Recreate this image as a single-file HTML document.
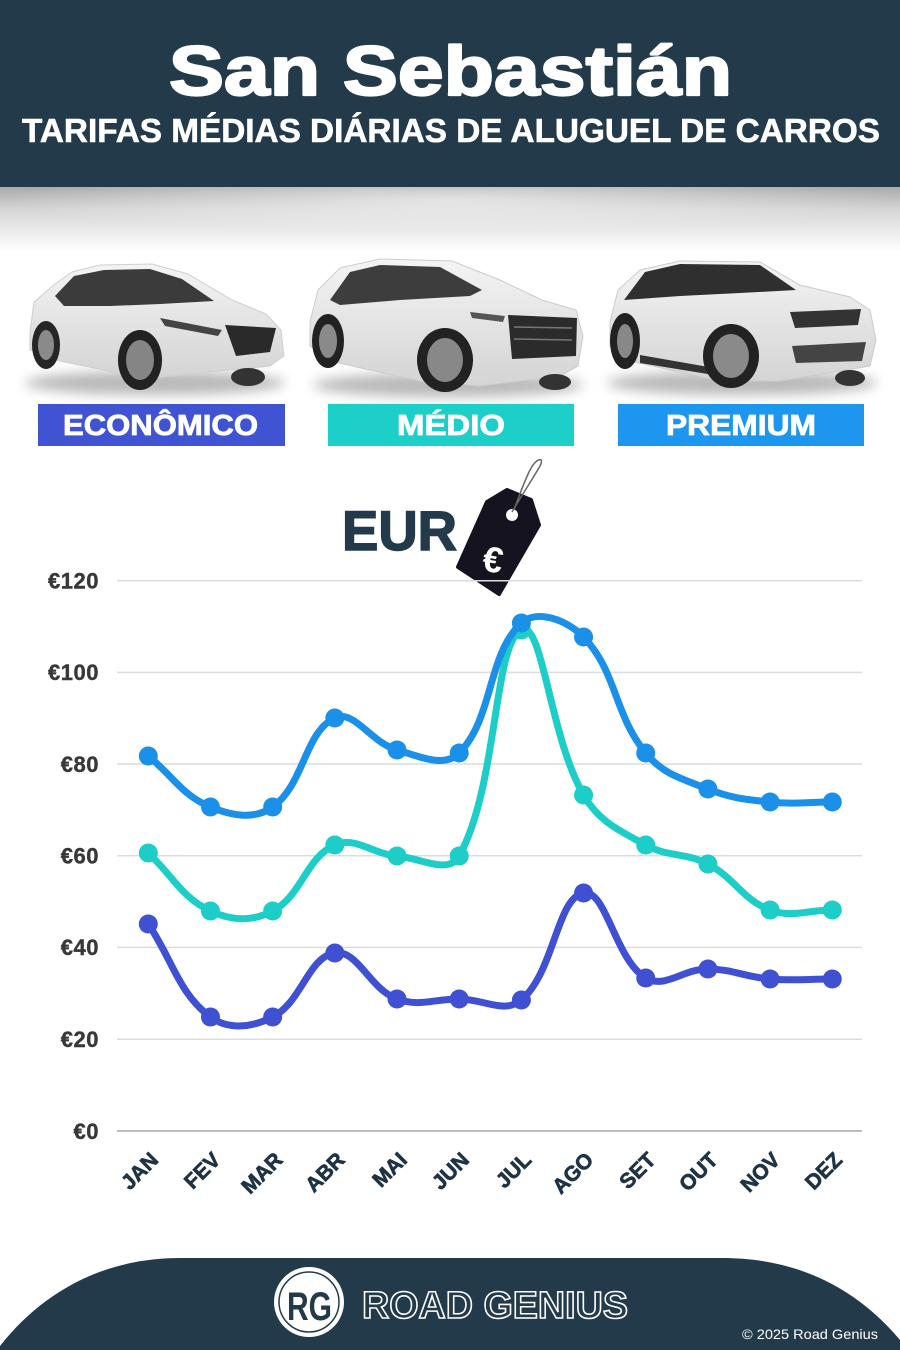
<!DOCTYPE html>
<html><head><meta charset="utf-8">
<style>
html,body{margin:0;padding:0;background:#fff;}
body{width:900px;height:1350px;overflow:hidden;}
svg{display:block;}
text{font-family:"Liberation Sans",sans-serif;}
</style></head>
<body>
<svg id="s" width="900" height="1350" viewBox="0 0 900 1350" xmlns="http://www.w3.org/2000/svg">
<defs>
<linearGradient id="band" x1="0" y1="0" x2="0" y2="1">
<stop offset="0" stop-color="#a9a9a9"/>
<stop offset="0.35" stop-color="#d6d6d6"/>
<stop offset="1" stop-color="#ffffff"/>
</linearGradient>
<radialGradient id="bandc" cx="0.5" cy="0.2" r="0.5">
<stop offset="0" stop-color="#fff" stop-opacity="0.55"/>
<stop offset="1" stop-color="#fff" stop-opacity="0"/>
</radialGradient>
<linearGradient id="body" x1="0" y1="0" x2="0" y2="1">
<stop offset="0" stop-color="#f4f4f4"/>
<stop offset="1" stop-color="#d4d4d4"/>
</linearGradient>
<filter id="blur" x="-20%" y="-100%" width="140%" height="300%"><feGaussianBlur stdDeviation="6"/></filter>
</defs>

<!-- header -->
<rect x="0" y="0" width="900" height="187" fill="#233a4b"/>
<rect x="0" y="187" width="900" height="65" fill="url(#band)"/>
<rect x="0" y="187" width="900" height="65" fill="url(#bandc)"/>
<text x="169" y="95" font-size="70" font-weight="bold" fill="#fff" stroke="#fff" stroke-width="2.2" stroke-linejoin="round" textLength="563" lengthAdjust="spacingAndGlyphs">San Sebastián</text>
<text x="22" y="142" font-size="33" font-weight="bold" fill="#fff" stroke="#fff" stroke-width="0.6" textLength="858" lengthAdjust="spacingAndGlyphs">TARIFAS MÉDIAS DIÁRIAS DE ALUGUEL DE CARROS</text>

<!-- car 1 -->
<g>
<ellipse cx="155" cy="383" rx="130" ry="12" fill="#8a8a8a" opacity="0.6" filter="url(#blur)"/>
<path d="M30,332 L34,302 L55,284 L72,272 L100,265 L152,264 L188,274 L232,300 L266,314 L281,330 L284,356 L270,366 L160,377 L118,373 L60,361 L30,350 Z" fill="url(#body)" stroke="#cfcfcf"/>
<path d="M55,296 L74,276 L104,270 L150,269 L182,279 L214,301 L160,304 L110,306 L64,306 Z" fill="#3b3b3b"/>
<path d="M225,325 L276,328 L270,352 L236,356 Z" fill="#2a2a2a"/>
<path d="M160,318 L222,330 L218,336 L165,326 Z" fill="#444"/>
<ellipse cx="46" cy="345" rx="14" ry="24" fill="#262626"/>
<ellipse cx="46" cy="345" rx="8" ry="15" fill="#8a8a8a"/>
<ellipse cx="140" cy="360" rx="22" ry="30" fill="#222"/>
<ellipse cx="140" cy="360" rx="14" ry="20" fill="#858585"/>
<ellipse cx="248" cy="377" rx="17" ry="9" fill="#333"/>
</g>
<!-- car 2 -->
<g>
<ellipse cx="448" cy="385" rx="135" ry="12" fill="#8a8a8a" opacity="0.6" filter="url(#blur)"/>
<path d="M310,322 L318,290 L340,268 L380,259 L452,261 L500,280 L542,300 L576,310 L583,336 L578,366 L560,376 L480,386 L420,381 L330,361 L310,346 Z" fill="url(#body)" stroke="#cccccc"/>
<path d="M330,300 L350,272 L380,265 L440,267 L482,290 L470,296 L400,300 L340,305 Z" fill="#3d3d3d"/>
<path d="M508,315 L577,318 L576,356 L512,359 Z" fill="#2b2b2b"/>
<path d="M514,327 L572,328 M514,339 L572,340" stroke="#777" stroke-width="1.5"/>
<path d="M470,312 L505,316 L503,322 L472,318 Z" fill="#555"/>
<ellipse cx="328" cy="341" rx="16" ry="27" fill="#222"/>
<ellipse cx="328" cy="341" rx="9" ry="17" fill="#8a8a8a"/>
<ellipse cx="445" cy="360" rx="28" ry="32" fill="#222"/>
<ellipse cx="445" cy="360" rx="18" ry="22" fill="#888"/>
<ellipse cx="555" cy="382" rx="16" ry="8" fill="#333"/>
</g>
<!-- car 3 -->
<g>
<ellipse cx="742" cy="383" rx="135" ry="12" fill="#8a8a8a" opacity="0.6" filter="url(#blur)"/>
<path d="M610,322 L618,290 L640,270 L680,261 L760,262 L800,285 L850,297 L870,310 L876,340 L870,366 L780,381 L720,381 L630,361 L610,346 Z" fill="url(#body)" stroke="#cccccc"/>
<path d="M624,300 L645,272 L680,264 L760,265 L796,290 L740,293 L680,296 Z" fill="#2f2f2f"/>
<path d="M640,355 L720,369 L720,376 L640,363 Z" fill="#333"/>
<path d="M790,312 L861,309 L858,325 L795,328 Z" fill="#333"/>
<path d="M792,346 L866,342 L862,361 L796,363 Z" fill="#444"/>
<ellipse cx="625" cy="341" rx="15" ry="28" fill="#222"/>
<ellipse cx="625" cy="341" rx="8" ry="17" fill="#888"/>
<ellipse cx="731" cy="356" rx="28" ry="32" fill="#222"/>
<ellipse cx="731" cy="356" rx="18" ry="22" fill="#8a8a8a"/>
<ellipse cx="850" cy="378" rx="15" ry="8" fill="#333"/>
</g>

<!-- legend boxes -->
<rect x="38" y="404" width="247" height="42" fill="#4053d3"/>
<rect x="328" y="404" width="246" height="42" fill="#1ccfc9"/>
<rect x="618" y="404" width="246" height="42" fill="#1c96ee"/>
<g font-size="29" font-weight="bold" fill="#fff" stroke="#fff" stroke-width="0.8">
<text x="63" y="435" textLength="195" lengthAdjust="spacingAndGlyphs">ECONÔMICO</text>
<text x="397" y="435" textLength="108" lengthAdjust="spacingAndGlyphs">MÉDIO</text>
<text x="666" y="435" textLength="150" lengthAdjust="spacingAndGlyphs">PREMIUM</text>
</g>

<!-- EUR + tag -->
<text x="342" y="550" font-size="56" font-weight="bold" fill="#233a4b" stroke="#233a4b" stroke-width="1.5" textLength="115" lengthAdjust="spacingAndGlyphs">EUR</text>
<path d="M487,502 L507,490 L531,500 L539,525 L499,594 L458,567 Z" fill="#15131f" stroke="#15131f" stroke-width="4" stroke-linejoin="round"/>
<circle cx="512" cy="515" r="6" fill="#fff"/>
<path d="M512,512 C520,498 532,480 540,466 C545,456 536,458 530,470 C524,482 519,496 514,510" stroke="#666" stroke-width="1.5" fill="none"/>
<text x="493" y="572" font-size="36" font-weight="bold" fill="#fff" text-anchor="middle" transform="rotate(10 493 560)">€</text>

<!-- grid -->
<g stroke="#dcdcdc" stroke-width="1.5">
<line x1="117" y1="580.7" x2="862" y2="580.7"/>
<line x1="117" y1="672.4" x2="862" y2="672.4"/>
<line x1="117" y1="764" x2="862" y2="764"/>
<line x1="117" y1="855.7" x2="862" y2="855.7"/>
<line x1="117" y1="947.4" x2="862" y2="947.4"/>
<line x1="117" y1="1039.3" x2="862" y2="1039.3"/>
</g>
<line x1="117" y1="1131" x2="862" y2="1131" stroke="#bdbdbd" stroke-width="2"/>
<g font-size="22" font-weight="bold" fill="#383838" stroke="#383838" stroke-width="0.4" text-anchor="end" letter-spacing="0.5">
<text x="99" y="588.5">€120</text>
<text x="99" y="680">€100</text>
<text x="99" y="772">€80</text>
<text x="99" y="863.5">€60</text>
<text x="99" y="955">€40</text>
<text x="99" y="1047">€20</text>
<text x="99" y="1139">€0</text>
</g>
<g id="xl" font-size="21" font-weight="bold" fill="#1f3345" stroke="#1f3345" stroke-width="0.7" text-anchor="end"></g>
<g id="lines"></g>

<!-- footer -->
<path d="M0,1346 C40,1295 100,1258 180,1258 L722,1258 C800,1258 858,1290 900,1340 L900,1350 L0,1350 Z" fill="#233a4b"/>
<circle cx="309" cy="1302" r="35" fill="#fff"/>
<circle cx="309" cy="1302" r="30" fill="none" stroke="#233a4b" stroke-width="1.5"/>
<text x="287" y="1320" font-size="40" font-weight="bold" fill="#233a4b" textLength="45" lengthAdjust="spacingAndGlyphs">RG</text>
<text x="362" y="1318" font-size="38" font-weight="bold" fill="#233a4b" stroke="#ffffff" stroke-width="1.6" textLength="266" lengthAdjust="spacingAndGlyphs">ROAD GENIUS</text>
<text x="742" y="1339" font-size="14" fill="#fff" textLength="136" lengthAdjust="spacingAndGlyphs">© 2025 Road Genius</text>
</svg>
<script>
(function(){
var NS="http://www.w3.org/2000/svg";
var xs=[];for(var i=0;i<12;i++)xs.push(148.3+62.18*i);
var months=["JAN","FEV","MAR","ABR","MAI","JUN","JUL","AGO","SET","OUT","NOV","DEZ"];
var xl=document.getElementById("xl");
months.forEach(function(m,i){
 var t=document.createElementNS(NS,"text");
 var x=xs[i]+6,y=1156;
 t.setAttribute("x",x);t.setAttribute("y",y);t.setAttribute("dy","0.35em");
 t.setAttribute("transform","rotate(-45 "+x+" "+y+")");
 t.textContent=m;xl.appendChild(t);
});
var series=[
 {c:"#3f50d3",y:[924,1017,1017,953,999,999,1000,893,978,969,979,979]},
 {c:"#1ccdc8",y:[853,911,911,845,856,856,630,795,845,864,910,910]},
 {c:"#1b90e8",y:[756,807,807,718,750,753,623,637,753,789,802,802]}
];
function cps(p0,p1,p2,t){
 var d01=Math.hypot(p1.x-p0.x,p1.y-p0.y),d12=Math.hypot(p2.x-p1.x,p2.y-p1.y);
 var s01=d01/(d01+d12),s12=d12/(d01+d12);
 if(isNaN(s01))s01=0;if(isNaN(s12))s12=0;
 var fa=t*s01,fb=t*s12;
 return {p:{x:p1.x-fa*(p2.x-p0.x),y:p1.y-fa*(p2.y-p0.y)},n:{x:p1.x+fb*(p2.x-p0.x),y:p1.y+fb*(p2.y-p0.y)}};
}
var g=document.getElementById("lines");
series.forEach(function(s){
 var pts=s.y.map(function(y,i){return {x:xs[i],y:y};});
 var c=pts.map(function(p,i){return cps(pts[i-1]||p,p,pts[i+1]||p,0.4);});
 var d="M"+pts[0].x+","+pts[0].y;
 for(var i=1;i<pts.length;i++){
  d+=" C"+c[i-1].n.x+","+c[i-1].n.y+" "+c[i].p.x+","+c[i].p.y+" "+pts[i].x+","+pts[i].y;
 }
 var path=document.createElementNS(NS,"path");
 path.setAttribute("d",d);path.setAttribute("fill","none");path.setAttribute("stroke",s.c);
 path.setAttribute("stroke-width","7");path.setAttribute("stroke-linecap","round");path.setAttribute("stroke-linejoin","round");
 g.appendChild(path);
 pts.forEach(function(p){
  var ci=document.createElementNS(NS,"circle");
  ci.setAttribute("cx",p.x);ci.setAttribute("cy",p.y);ci.setAttribute("r","9.5");ci.setAttribute("fill",s.c);
  g.appendChild(ci);
 });
});
})();
</script>
</body></html>
